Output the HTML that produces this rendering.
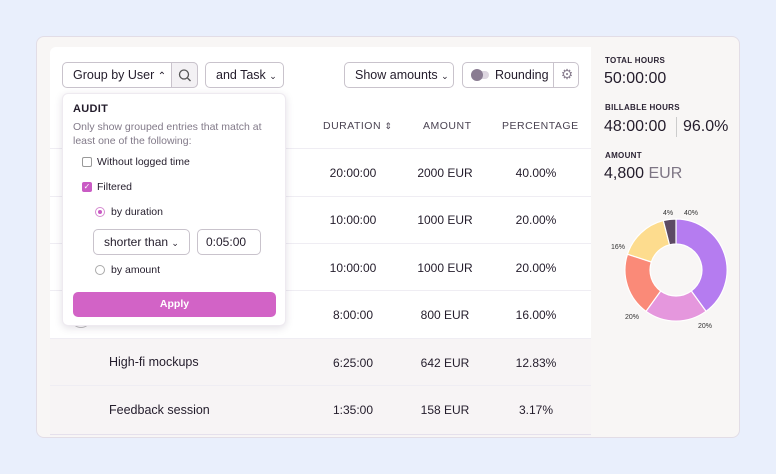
<!DOCTYPE html>
<html><head><meta charset="utf-8"><style>
*{box-sizing:border-box;margin:0;padding:0}
body{width:776px;height:474px;background:#e9effc;font-family:"Liberation Sans",sans-serif;color:#231c2b;position:relative;overflow:hidden}
.a{position:absolute}
.card{left:36px;top:36px;width:704px;height:402px;background:#f8f6f5;border:1px solid #e2dde6;border-radius:8px}
.main{left:50px;top:47px;width:541px;height:389px;background:#fff;border-radius:6px 0 0 0}
.btn{position:absolute;height:26px;border:1px solid #c9c3cc;border-radius:5px;background:#fff;font-size:12.5px;line-height:24px;padding-left:10px}
.th{position:absolute;top:120px;font-size:10.5px;letter-spacing:.5px;color:#4a4352;text-align:center}
.line{position:absolute;left:50px;width:541px;height:1px;background:#efedf3}
.c{position:absolute;font-size:12px;text-align:center;width:100px}
.lbl{font-size:8px;letter-spacing:.3px;color:#2b2333;font-weight:bold}
.pop{left:62px;top:93px;width:224px;height:233px;background:#fff;border-radius:6px;box-shadow:0 2px 8px rgba(60,40,80,.15);border:1px solid #eeeaf0}
</style></head><body>
<div class="a card"></div>
<div class="a main"></div>
<div class="a" style="left:50px;top:339px;width:541px;height:97px;background:#f7f4f5"></div>
<div class="line" style="top:148px"></div>
<div class="line" style="top:196px"></div>
<div class="line" style="top:243px"></div>
<div class="line" style="top:290px"></div>
<div class="line" style="top:338px"></div>
<div class="line" style="top:385px"></div>
<div class="line" style="top:434px;background:#e5e0ec"></div>

<div class="btn" style="left:62px;top:62px;width:136px">Group by User <span style="font-size:10px">&#8963;</span>
<div class="a" style="left:108px;top:-1px;width:27px;height:26px;border:1px solid #c9c3cc;border-radius:0 5px 5px 0;background:#f3f1f4"><svg width="27" height="26"><circle cx="12" cy="11.5" r="4.5" fill="none" stroke="#555" stroke-width="1.3"/><line x1="15.5" y1="15" x2="18.5" y2="18" stroke="#555" stroke-width="1.3"/></svg></div></div>
<div class="btn" style="left:205px;top:62px;width:79px">and Task <span style="font-size:9px">&#8964;</span></div>
<div class="btn" style="left:344px;top:62px;width:110px">Show amounts <span style="font-size:9px">&#8964;</span></div>
<div class="btn" style="left:462px;top:62px;width:117px;padding-left:32px">Rounding
<div class="a" style="left:8px;top:8px;width:18px;height:8px;border-radius:4px;background:#ddd6e0"></div>
<div class="a" style="left:8px;top:6px;width:12px;height:12px;border-radius:6px;background:#8a7c92"></div>
<div class="a" style="left:90px;top:-1px;width:27px;height:26px;border-left:1px solid #c9c3cc;text-align:center;color:#8a7f90;font-size:14px">&#9881;</div></div>

<div class="th" style="left:323px">DURATION <span style="font-size:9px">&#8661;</span></div>
<div class="th" style="left:423px">AMOUNT</div>
<div class="th" style="left:502px">PERCENTAGE</div>

<div class="c" style="left:303px;top:166px">20:00:00</div><div class="c" style="left:395px;top:166px">2000 EUR</div><div class="c" style="left:486px;top:166px">40.00%</div>
<div class="c" style="left:303px;top:213px">10:00:00</div><div class="c" style="left:395px;top:213px">1000 EUR</div><div class="c" style="left:486px;top:213px">20.00%</div>
<div class="c" style="left:303px;top:261px">10:00:00</div><div class="c" style="left:395px;top:261px">1000 EUR</div><div class="c" style="left:486px;top:261px">20.00%</div>
<div class="c" style="left:303px;top:308px">8:00:00</div><div class="c" style="left:395px;top:308px">800 EUR</div><div class="c" style="left:486px;top:308px">16.00%</div>
<div class="c" style="left:303px;top:356px">6:25:00</div><div class="c" style="left:395px;top:356px">642 EUR</div><div class="c" style="left:486px;top:356px">12.83%</div>
<div class="c" style="left:303px;top:403px">1:35:00</div><div class="c" style="left:395px;top:403px">158 EUR</div><div class="c" style="left:486px;top:403px">3.17%</div>
<div class="a" style="left:109px;top:355px;font-size:12.5px">High-fi mockups</div>
<div class="a" style="left:109px;top:403px;font-size:12.5px">Feedback session</div>
<div class="a" style="left:71px;top:318px;width:20px;height:10px;border:1px solid #bbb;border-top:none;border-radius:0 0 10px 10px"></div>

<div class="a pop">
<div class="a" style="left:10px;top:9px;font-size:11px;font-weight:bold;letter-spacing:.3px">AUDIT</div>
<div class="a" style="left:10px;top:26px;width:210px;font-size:10.5px;line-height:14px;color:#827a89">Only show grouped entries that match at least one of the following:</div>
<div class="a" style="left:19px;top:63px;width:10px;height:10px;border:1px solid #999;border-radius:2px"></div>
<div class="a" style="left:34px;top:62px;font-size:10.5px">Without logged time</div>
<div class="a" style="left:19px;top:88px;width:10px;height:10px;background:#c95bc4;border-radius:2px;color:#fff;font-size:8px;line-height:10px;text-align:center">&#10003;</div>
<div class="a" style="left:34px;top:87px;font-size:10.5px">Filtered</div>
<div class="a" style="left:32px;top:113px;width:10px;height:10px;border:1px solid #d58ad0;border-radius:50%"><div class="a" style="left:2px;top:2px;width:4px;height:4px;background:#c95bc4;border-radius:50%"></div></div>
<div class="a" style="left:48px;top:112px;font-size:10.5px">by duration</div>
<div class="a" style="left:30px;top:135px;width:97px;height:26px;border:1px solid #c9c3cc;border-radius:5px;font-size:12px;line-height:24px;padding-left:10px">shorter than <span style="font-size:9px">&#8964;</span></div>
<div class="a" style="left:134px;top:135px;width:64px;height:26px;border:1px solid #c9c3cc;border-radius:5px;font-size:12px;line-height:24px;padding-left:8px">0:05:00</div>
<div class="a" style="left:32px;top:171px;width:10px;height:10px;border:1px solid #aaa;border-radius:50%"></div>
<div class="a" style="left:48px;top:170px;font-size:10.5px">by amount</div>
<div class="a" style="left:10px;top:198px;width:203px;height:25px;background:#d263c6;border-radius:5px;color:#fff;font-size:10.5px;font-weight:bold;text-align:center;line-height:25px">Apply</div>
</div>

<div class="a lbl" style="left:605px;top:56px">TOTAL HOURS</div>
<div class="a" style="left:604px;top:70px;font-size:16px">50:00:00</div>
<div class="a lbl" style="left:605px;top:103px">BILLABLE HOURS</div>
<div class="a" style="left:604px;top:118px;font-size:16px">48:00:00</div>
<div class="a" style="left:676px;top:117px;width:1px;height:20px;background:#ccc"></div>
<div class="a" style="left:683px;top:118px;font-size:16px">96.0%</div>
<div class="a lbl" style="left:605px;top:151px">AMOUNT</div>
<div class="a" style="left:604px;top:165px;font-size:16px">4,800 <span style="color:#7d7584">EUR</span></div>

<svg class="a" style="left:0;top:0" width="776" height="474">
<g stroke="#fff" stroke-width="1.2">
<path d="M676,219 A51,51 0 0 1 706,311.3 L691.3,291 A26,26 0 0 0 676,244Z" fill="#b57cf0"/>
<path d="M706,311.3 A51,51 0 0 1 646,311.3 L660.7,291 A26,26 0 0 0 691.3,291Z" fill="#e597dd"/>
<path d="M646,311.3 A51,51 0 0 1 627.5,254.2 L651.3,262 A26,26 0 0 0 660.7,291Z" fill="#fa8a78"/>
<path d="M627.5,254.2 A51,51 0 0 1 663.3,220.6 L669.5,244.8 A26,26 0 0 0 651.3,262Z" fill="#fddc8e"/>
<path d="M663.3,220.6 A51,51 0 0 1 676,219 L676,244 A26,26 0 0 0 669.5,244.8Z" fill="#5d4a63"/>
</g>
<g font-size="7" fill="#333" font-family="Liberation Sans">
<text x="684" y="215">40%</text><text x="663" y="215">4%</text><text x="611" y="249">16%</text><text x="625" y="319">20%</text><text x="698" y="328">20%</text>
</g>
</svg>
</body></html>
